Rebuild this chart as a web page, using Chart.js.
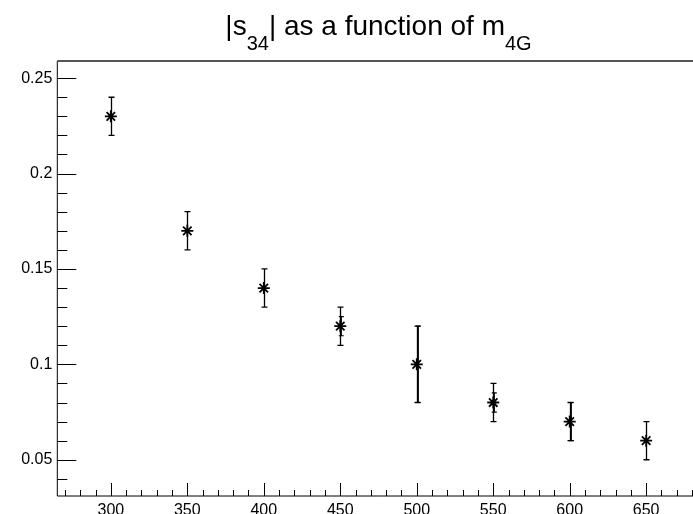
<!DOCTYPE html>
<html>
<head>
<meta charset="utf-8">
<script src="https://cdn.jsdelivr.net/npm/chart.js@4"></script>
<style>
html, body { margin: 0; padding: 0; background: #fff; overflow: hidden; }
canvas { display: block; }
</style>
</head>
<body>
<canvas id="plot" width="712" height="514"></canvas>
<script>
// |s34| vs m4G, with total and inner error bars
var masses = [300, 350, 400, 450, 500, 550, 600, 650];
var s34 = [0.23, 0.17, 0.14, 0.12, 0.10, 0.08, 0.07, 0.06];
var errTotal = [0.01, 0.01, 0.01, 0.01, 0.02, 0.01, 0.01, 0.01];
var errInner = [0, 0, 0, 0.005, 0.02, 0.005, 0.01, 0];
var xTicks = [300, 350, 400, 450, 500, 550, 600, 650];
var yTicks = [0.05, 0.1, 0.15, 0.2, 0.25];
var xRange = [265, 685];
var yRange = [0.031, 0.259];

var FONT = "'Liberation Sans', Arial, Helvetica, sans-serif";

function drawBar(ctx, px, top, bottom, capHalf, width) {
    ctx.lineWidth = width;
    ctx.beginPath();
    ctx.moveTo(px, top);
    ctx.lineTo(px, bottom);
    ctx.moveTo(px - capHalf, top);
    ctx.lineTo(px + capHalf, top);
    ctx.moveTo(px - capHalf, bottom);
    ctx.lineTo(px + capHalf, bottom);
    ctx.stroke();
}

var errorBars = {
    id: 'errorBars',
    beforeDatasetsDraw: function(chart) {
        var ctx = chart.ctx, xs = chart.scales.x, ys = chart.scales.y;
        ctx.save();
        ctx.strokeStyle = '#000';
        for (var i = 0; i < masses.length; i++) {
            var px = Math.round(xs.getPixelForValue(masses[i])) + 0.5;
            drawBar(ctx, px, ys.getPixelForValue(s34[i] + errTotal[i]),
                ys.getPixelForValue(s34[i] - errTotal[i]), 3, 1.3);
            if (errInner[i] > 0) {
                drawBar(ctx, px + 0.8, ys.getPixelForValue(s34[i] + errInner[i]),
                    ys.getPixelForValue(s34[i] - errInner[i]), 2.5, 1.2);
            }
        }
        ctx.restore();
    }
};

// frame with inward ticks, ROOT style
var frame = {
    id: 'frame',
    afterDraw: function(chart) {
        var ctx = chart.ctx, a = chart.chartArea;
        var xs = chart.scales.x, ys = chart.scales.y;
        ctx.save();
        ctx.strokeStyle = '#000';
        ctx.lineWidth = 1;
        ctx.beginPath();
        ctx.moveTo(a.left, a.top);
        ctx.lineTo(a.left, a.bottom);
        ctx.lineTo(a.right, a.bottom);
        ctx.stroke();
        ctx.strokeStyle = '#555';
        ctx.lineWidth = 2;
        ctx.beginPath();
        ctx.moveTo(a.left, a.top);
        ctx.lineTo(a.right, a.top);
        ctx.lineTo(a.right, a.bottom);
        ctx.stroke();

        ctx.strokeStyle = '#000';
        ctx.lineWidth = 1;
        ctx.beginPath();
        var v, p, major;
        for (v = 270; v <= xRange[1]; v += 10) {
            p = Math.round(xs.getPixelForValue(v)) + 0.5;
            major = v % 50 === 0;
            ctx.moveTo(p, a.bottom);
            ctx.lineTo(p, a.bottom - (major ? 13 : 6));
        }
        for (var k = 4; k <= 25; k++) {
            v = k / 100;
            p = Math.round(ys.getPixelForValue(v)) + 0.5;
            major = k % 5 === 0;
            ctx.moveTo(a.left, p);
            ctx.lineTo(a.left + (major ? 19 : 10), p);
        }
        ctx.stroke();
        ctx.restore();
    }
};

// title with subscripts
var title = {
    id: 'subTitle',
    afterDraw: function(chart) {
        var ctx = chart.ctx, a = chart.chartArea;
        var parts = [
            ['|s', false], ['34', true], ['| as a function of m', false], ['4G', true]
        ];
        var big = '28px ' + FONT, small = '20px ' + FONT;
        ctx.save();
        ctx.fillStyle = '#000';
        ctx.textBaseline = 'alphabetic';
        var total = 0, widths = [];
        parts.forEach(function(pt) {
            ctx.font = pt[1] ? small : big;
            var w = ctx.measureText(pt[0]).width;
            widths.push(w);
            total += w;
        });
        var x = (a.left + a.right) / 2 - total / 2;
        parts.forEach(function(pt, i) {
            ctx.font = pt[1] ? small : big;
            ctx.fillText(pt[0], x, pt[1] ? 50 : 35);
            x += widths[i];
        });
        ctx.restore();
    }
};

new Chart(document.getElementById('plot').getContext('2d'), {
    type: 'scatter',
    data: {
        datasets: [{
            data: masses.map(function(m, i) { return { x: m, y: s34[i] }; }),
            pointStyle: 'star',
            pointRadius: 6,
            pointHoverRadius: 6,
            borderColor: '#000',
            backgroundColor: '#000',
            pointBorderWidth: 1.8,
            showLine: false
        }]
    },
    options: {
        responsive: false,
        animation: false,
        events: [],
        layout: { padding: { top: 61, right: 12.3, bottom: 0, left: 0 } },
        plugins: { legend: { display: false }, tooltip: { enabled: false } },
        scales: {
            x: {
                type: 'linear',
                min: xRange[0],
                max: xRange[1],
                afterBuildTicks: function(s) { s.ticks = xTicks.map(function(v) { return { value: v }; }); },
                afterFit: function(s) { s.height = 18; },
                grid: { display: false, drawTicks: false },
                border: { display: false },
                ticks: { color: '#000', font: { family: FONT, size: 16 }, padding: 5, maxRotation: 0, autoSkip: false }
            },
            y: {
                min: yRange[0],
                max: yRange[1],
                afterBuildTicks: function(s) { s.ticks = yTicks.map(function(v) { return { value: v }; }); },
                afterFit: function(s) { s.width = 57.3; },
                grid: { display: false, drawTicks: false },
                border: { display: false },
                ticks: {
                    color: '#000', font: { family: FONT, size: 16 }, padding: 5, autoSkip: false,
                    callback: function(v) { return String(Math.round(v * 100) / 100); }
                }
            }
        }
    },
    plugins: [errorBars, frame, title]
});
</script>
</body>
</html>
